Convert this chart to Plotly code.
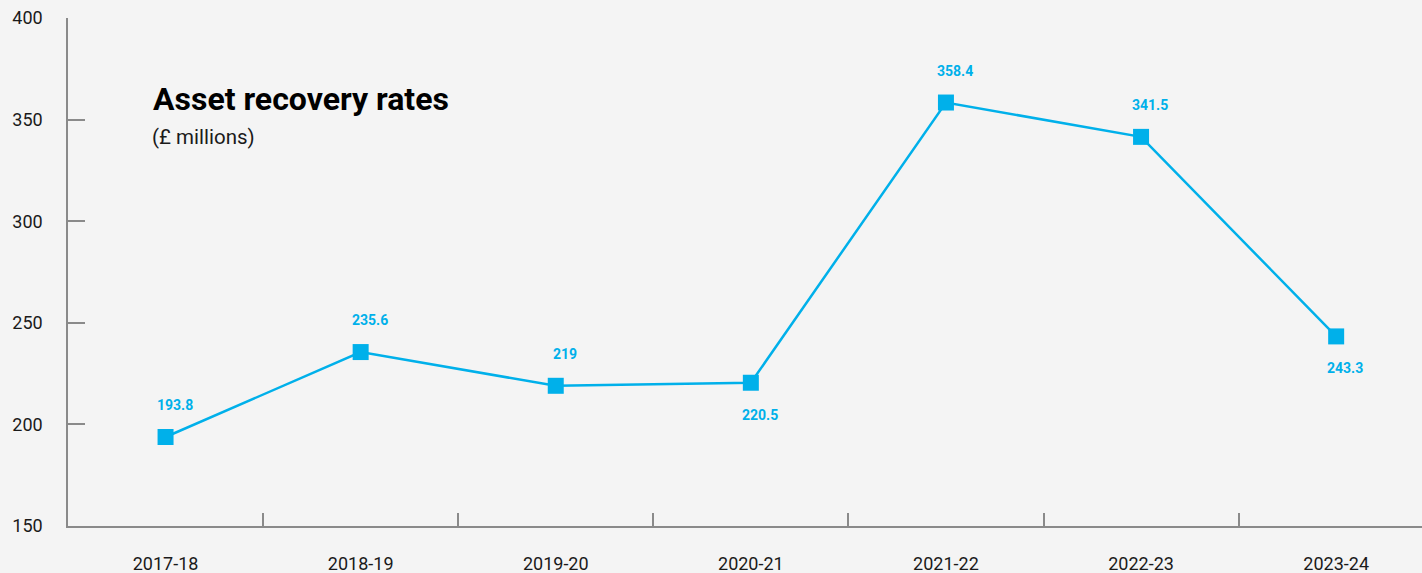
import plotly.graph_objects as go

# Financial years and recovered assets (£ millions)
years = ["2017-18", "2018-19", "2019-20", "2020-21", "2021-22", "2022-23", "2023-24"]
recovered = [193.8, 235.6, 219, 220.5, 358.4, 341.5, 243.3]
label_below = [False, False, False, True, False, False, True]
y_ticks = [150, 200, 250, 300, 350, 400]

BLUE = "#00b0ea"
BG = "#f4f4f4"
AXIS = "#8a8a8a"
FONT = "Roboto, Inter, sans-serif"

fig = go.Figure()
fig.add_trace(go.Scatter(
    x=years, y=recovered, mode="lines+markers",
    line=dict(color=BLUE, width=2.5),
    marker=dict(symbol="square", size=16, color=BLUE),
    hoverinfo="x+y", showlegend=False,
))

for yr, v, below in zip(years, recovered, label_below):
    fig.add_annotation(
        x=yr, y=v, text=f"<b>{v:g}</b>", showarrow=False,
        xshift=9, yshift=-32 if below else 32,
        font=dict(family=FONT, size=14, color=BLUE),
    )

fig.add_annotation(
    xref="paper", yref="paper", x=0.061, y=0.84, xanchor="left", yanchor="middle",
    text="<b>Asset recovery rates</b>", showarrow=False,
    font=dict(family=FONT, size=32, color="#000000"),
)
fig.add_annotation(
    xref="paper", yref="paper", x=0.0605, y=0.766, xanchor="left", yanchor="middle",
    text="(£ millions)", showarrow=False,
    font=dict(family=FONT, size=20.5, color="#1a1a1a"),
)

fig.update_layout(
    width=1422, height=573,
    margin=dict(l=68, r=0, t=18, b=47),
    paper_bgcolor=BG, plot_bgcolor=BG,
    font=dict(family=FONT, color="#1a1a1a"),
    xaxis=dict(
        type="category", range=[-0.5, 6.44], automargin=False,
        showgrid=False, zeroline=False,
        showline=True, linecolor=AXIS, linewidth=1.5,
        tickson="boundaries", ticks="inside", ticklen=13,
        tickcolor=AXIS, tickwidth=1.5,
        tickfont=dict(size=18, color="#1a1a1a"),
        ticklabelstandoff=21,
    ),
    yaxis=dict(
        range=[150, 400], tickvals=y_ticks, automargin=False,
        showgrid=False, zeroline=False,
        showline=True, linecolor=AXIS, linewidth=1.5,
        ticks="inside", ticklen=17, tickcolor=AXIS, tickwidth=1.5,
        tickfont=dict(size=18, color="#1a1a1a"),
        ticklabelstandoff=20,
    ),
)

fig.write_html("out.html")
